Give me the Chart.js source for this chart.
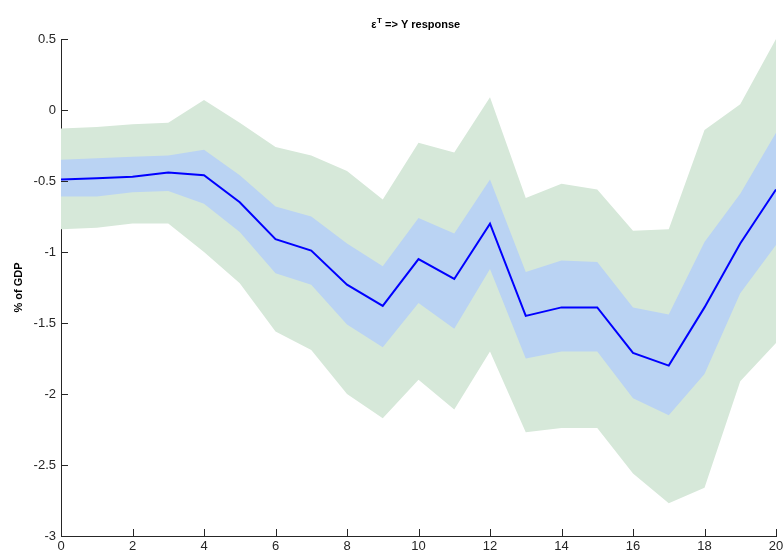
<!DOCTYPE html>
<html>
<head>
<meta charset="utf-8">
<script src="https://cdn.jsdelivr.net/npm/chart.js@4/dist/chart.umd.min.js"></script>
<style>
  html, body { margin: 0; padding: 0; background: #fff; }
  #wrap { width: 783px; height: 554px; position: relative; }
</style>
</head>
<body>
<div id="wrap"><canvas id="c" width="783" height="554"></canvas></div>
<script>
// Horizon (quarters after the shock)
const steps = [0,1,2,3,4,5,6,7,8,9,10,11,12,13,14,15,16,17,18,19,20];

// Median impulse response of Y to the epsilon^T shock (% of GDP)
const median = [-0.49,-0.48,-0.47,-0.44,-0.46,-0.65,-0.91,-0.99,-1.23,-1.38,-1.05,-1.19,-0.80,-1.45,-1.39,-1.39,-1.71,-1.80,-1.39,-0.94,-0.56];

// Inner (narrow) confidence band
const innerUpper = [-0.35,-0.34,-0.33,-0.32,-0.28,-0.46,-0.68,-0.75,-0.94,-1.10,-0.76,-0.87,-0.49,-1.14,-1.06,-1.07,-1.39,-1.44,-0.93,-0.59,-0.16];
const innerLower = [-0.61,-0.61,-0.58,-0.57,-0.66,-0.86,-1.15,-1.23,-1.51,-1.67,-1.36,-1.54,-1.12,-1.75,-1.70,-1.70,-2.03,-2.15,-1.86,-1.29,-0.95];

// Outer (wide) confidence band
const outerUpper = [-0.13,-0.12,-0.10,-0.09,0.07,-0.09,-0.26,-0.32,-0.43,-0.63,-0.23,-0.30,0.09,-0.62,-0.52,-0.56,-0.85,-0.84,-0.14,0.04,0.50];
const outerLower = [-0.84,-0.83,-0.80,-0.80,-1.00,-1.22,-1.56,-1.69,-2.00,-2.17,-1.90,-2.11,-1.70,-2.27,-2.24,-2.24,-2.56,-2.77,-2.66,-1.91,-1.64];

// Axis ticks
const xTicks = [0,2,4,6,8,10,12,14,16,18,20];
const yTicks = [0.5,0,-0.5,-1,-1.5,-2,-2.5,-3];

const pts = arr => arr.map((v, i) => ({ x: steps[i], y: v }));

const AXIS_COLOR = '#262626';
const FONT = '"Liberation Sans", Arial, sans-serif';

// Inward tick marks, title with superscript and rotated y-axis label
const decorations = {
  id: 'decorations',
  afterDraw(chart) {
    const ctx = chart.ctx;
    const xs = chart.scales.x, ys = chart.scales.y;
    const ca = chart.chartArea;
    const len = 7;
    ctx.save();
    ctx.strokeStyle = AXIS_COLOR;
    ctx.lineWidth = 1;
    ctx.beginPath();
    xTicks.forEach(v => {
      const px = Math.round(xs.getPixelForValue(v)) + 0.5;
      ctx.moveTo(px, ca.bottom);
      ctx.lineTo(px, ca.bottom - len);
    });
    yTicks.forEach(v => {
      const py = Math.round(ys.getPixelForValue(v)) + 0.5;
      ctx.moveTo(ca.left, py);
      ctx.lineTo(ca.left + len, py);
    });
    ctx.stroke();

    // Title: ε^T => Y response
    ctx.fillStyle = '#000';
    ctx.textBaseline = 'alphabetic';
    ctx.textAlign = 'left';
    const big = 'bold 11px ' + FONT, small = 'bold 8px ' + FONT;
    ctx.font = big;
    const wE = ctx.measureText('ε').width;
    const wRest = ctx.measureText(' => Y response').width;
    ctx.font = small;
    const wT = ctx.measureText('T').width;
    const total = wE + wT + wRest;
    let x0 = (ca.left + ca.right) / 2 - total / 2 - 3;
    const base = 28;
    ctx.font = big;
    ctx.fillText('ε', x0, base);
    ctx.font = small;
    ctx.fillText('T', x0 + wE + 0.5, base - 5);
    ctx.font = big;
    ctx.fillText(' => Y response', x0 + wE + wT + 0.5, base);

    // Y-axis label
    ctx.translate(22, (ca.top + ca.bottom) / 2);
    ctx.rotate(-Math.PI / 2);
    ctx.textAlign = 'center';
    ctx.font = 'bold 11px ' + FONT;
    ctx.fillText('% of GDP', 0, 0);
    ctx.restore();
  }
};

new Chart(document.getElementById('c'), {
  type: 'line',
  data: {
    datasets: [
      { label: 'median', data: pts(median), borderColor: '#0000ff', borderWidth: 2,
        pointRadius: 0, fill: false, order: 0 },
      { label: 'inner upper', data: pts(innerUpper), borderWidth: 0, pointRadius: 0,
        backgroundColor: '#bad3f3', fill: 2, order: 1 },
      { label: 'inner lower', data: pts(innerLower), borderWidth: 0, pointRadius: 0,
        fill: false, order: 1 },
      { label: 'outer upper', data: pts(outerUpper), borderWidth: 0, pointRadius: 0,
        backgroundColor: '#d6e8d9', fill: 4, order: 2 },
      { label: 'outer lower', data: pts(outerLower), borderWidth: 0, pointRadius: 0,
        fill: false, order: 2 }
    ]
  },
  options: {
    responsive: false,
    animation: false,
    events: [],
    layout: { padding: { top: 39, right: 7, bottom: 0, left: 0 } },
    plugins: { legend: { display: false }, tooltip: { enabled: false }, title: { display: false } },
    elements: { line: { tension: 0 } },
    scales: {
      x: {
        type: 'linear', min: 0, max: 20,
        afterFit: s => { s.height = 18; s.paddingLeft = 0; s.paddingRight = 0; },
        afterBuildTicks: s => { s.ticks = xTicks.map(v => ({ value: v })); },
        grid: { display: true, drawOnChartArea: false, drawTicks: false },
        border: { display: true, color: AXIS_COLOR, width: 1 },
        ticks: { color: AXIS_COLOR, padding: 3, maxRotation: 0, autoSkip: false,
                 font: { family: FONT, size: 13 }, callback: v => String(v) }
      },
      y: {
        type: 'linear', min: -3, max: 0.5,
        afterFit: s => { s.width = 61; s.paddingTop = 0; s.paddingBottom = 0; },
        afterBuildTicks: s => { s.ticks = yTicks.map(v => ({ value: v })); },
        grid: { display: true, drawOnChartArea: false, drawTicks: false },
        border: { display: true, color: AXIS_COLOR, width: 1 },
        ticks: { color: AXIS_COLOR, padding: 5, autoSkip: false,
                 font: { family: FONT, size: 13 }, callback: v => String(v) }
      }
    }
  },
  plugins: [decorations]
});
</script>
</body>
</html>
